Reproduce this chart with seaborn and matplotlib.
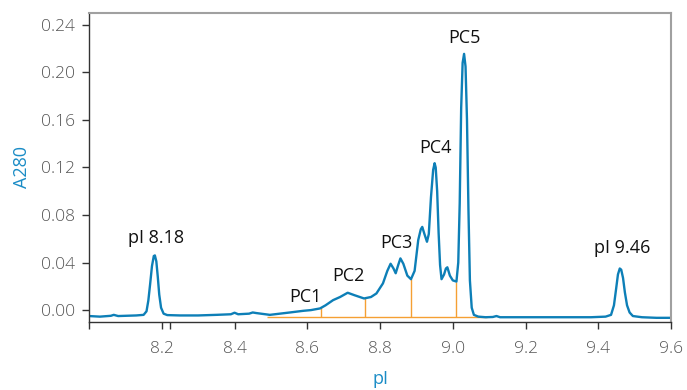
import seaborn as sns
import matplotlib.pyplot as plt
import pandas as pd

sns.set_style("ticks")
plt.rcParams['font.family'] = ['Open Sans', 'DejaVu Sans']

# trace
pI = [8.000, 8.030, 8.060, 8.068, 8.080, 8.100, 8.130, 8.150, 8.158, 8.163, 8.168,
      8.173, 8.178, 8.181, 8.185, 8.189, 8.193, 8.198, 8.205, 8.215, 8.250, 8.300,
      8.350, 8.390, 8.400, 8.410, 8.440, 8.450, 8.460, 8.497, 8.552, 8.589, 8.610,
      8.635, 8.650, 8.671, 8.690, 8.711, 8.730, 8.756, 8.775, 8.790, 8.808, 8.820,
      8.829, 8.837, 8.843, 8.850, 8.856, 8.864, 8.875, 8.885, 8.895, 8.905, 8.912,
      8.916, 8.922, 8.929, 8.934, 8.940, 8.946, 8.950, 8.953, 8.957, 8.961, 8.965,
      8.969, 8.976, 8.981, 8.985, 8.992, 9.000, 9.010, 9.015, 9.019, 9.023, 9.027,
      9.031, 9.035, 9.039, 9.043, 9.047, 9.052, 9.058, 9.070, 9.090, 9.110, 9.120,
      9.130, 9.200, 9.300, 9.380, 9.420, 9.435, 9.443, 9.449, 9.454, 9.459, 9.463,
      9.468, 9.473, 9.479, 9.486, 9.495, 9.520, 9.560, 9.600]
a280 = [-0.0050, -0.0055, -0.0048, -0.0040, -0.0050, -0.0048, -0.0045, -0.0040, -0.0010, 0.0080, 0.0220,
        0.0370, 0.0455, 0.0460, 0.0410, 0.0280, 0.0130, 0.0020, -0.0030, -0.0042, -0.0045, -0.0045,
        -0.0040, -0.0035, -0.0022, -0.0035, -0.0030, -0.0020, -0.0025, -0.0040, -0.0020, -0.0006, 0.0000,
        0.0014, 0.0040, 0.0084, 0.0110, 0.0146, 0.0125, 0.0098, 0.0110, 0.0140, 0.0225, 0.0330,
        0.0390, 0.0350, 0.0310, 0.0380, 0.0435, 0.0390, 0.0290, 0.0260, 0.0330, 0.0590, 0.0680,
        0.0700, 0.0640, 0.0575, 0.0640, 0.0950, 0.1180, 0.1236, 0.1200, 0.1000, 0.0650, 0.0380,
        0.0260, 0.0300, 0.0350, 0.0360, 0.0290, 0.0250, 0.0240, 0.0400, 0.0900, 0.1700, 0.2080,
        0.2156, 0.2050, 0.1600, 0.0850, 0.0250, 0.0020, -0.0040, -0.0055, -0.0060, -0.0058, -0.0050,
        -0.0060, -0.0060, -0.0060, -0.0060, -0.0055, -0.0040, 0.0040, 0.0180, 0.0300, 0.0350, 0.0340,
        0.0270, 0.0150, 0.0040, -0.0020, -0.0050, -0.0060, -0.0065, -0.0065]

# fraction cuts (orange)
cut_pI = [8.639, 8.758, 8.884, 9.008]
cut_top = [0.0025, 0.0100, 0.0260, 0.0235]
base_level = -0.0056
base_range = [8.488, 9.093]

# peak labels (baseline positions)
lab_text = ["pI 8.18", "pI 9.46", "PC1", "PC2", "PC3", "PC4", "PC5"]
lab_x = [8.184, 9.466, 8.594, 8.713, 8.844, 8.953, 9.032]
lab_y = [0.0567, 0.0477, 0.0070, 0.0244, 0.0520, 0.1325, 0.2246]

df = pd.DataFrame({"pI": pI, "A280": a280})

fig = plt.figure(figsize=(6.87, 3.90), dpi=100)
ax = fig.add_axes([0.1296, 0.1744, 0.8472, 0.7923])

orange = "#f5a033"
ax.hlines(base_level, base_range[0], base_range[1], color=orange, lw=1.0, zorder=1)
ax.vlines(cut_pI, base_level, cut_top, color=orange, lw=1.0, zorder=1)

sns.lineplot(data=df, x="pI", y="A280", ax=ax, color="#0d7fb7", lw=1.7,
             sort=False, zorder=2)

for t, x, y in zip(lab_text, lab_x, lab_y):
    ax.text(x, y, t, ha="center", va="baseline", fontsize=13, color="#111111")

ax.set_xlim(8.0, 9.6)
ax.set_ylim(-0.010, 0.250)
ax.set_xticks([8.0, 8.2, 8.4, 8.6, 8.8, 9.0, 9.2, 9.4, 9.6])
ax.set_xticklabels(["", "8.2", "8.4", "8.6", "8.8", "9.0", "9.2", "9.4", "9.6"])
ax.set_xticks([8.223], minor=True)
ax.set_yticks([0.00, 0.04, 0.08, 0.12, 0.16, 0.20, 0.24])
ax.set_yticklabels(["0.00", "0.04", "0.08", "0.12", "0.16", "0.20", "0.24"])
ax.tick_params(axis="both", which="both", direction="out", length=5, width=1,
               color="#333333", labelcolor="#555555", labelsize=12.5, pad=5)
ax.tick_params(axis="x", pad=9)
for lab in ax.get_xticklabels() + ax.get_yticklabels():
    lab.set_fontweight("light")

ax.set_xlabel("pI", color="#1a8cc6", fontsize=13, labelpad=9)
ax.set_ylabel("A280", color="#1a8cc6", fontsize=13, labelpad=7)

for side in ["left", "bottom"]:
    ax.spines[side].set_color("#333333")
    ax.spines[side].set_linewidth(1.0)
for side in ["top", "right"]:
    ax.spines[side].set_visible(True)
    ax.spines[side].set_color("#a0a0a0")
    ax.spines[side].set_linewidth(1.5)

plt.savefig("out.png", dpi=100)
